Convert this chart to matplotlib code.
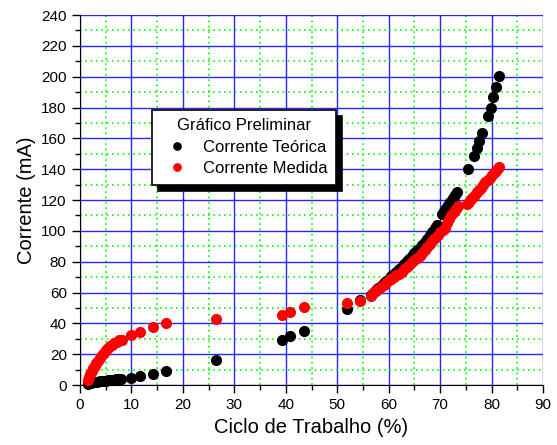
import matplotlib
matplotlib.use('Agg')
import matplotlib.pyplot as plt
from matplotlib.ticker import MultipleLocator

plt.rcParams['font.family'] = ['Liberation Sans', 'DejaVu Sans']

# Corrente teórica (mA) vs ciclo de trabalho (%)
teorica_x = [1.6, 1.9, 2.2, 2.5, 2.8, 3.1, 3.4, 3.8, 4.2, 4.6, 5.0, 5.4, 5.8, 6.2, 6.6, 7.0, 7.5, 8.0,
             10.0, 11.7, 14.1, 16.8, 26.4, 39.2, 40.8, 43.5, 51.8, 54.4,
             56.6, 57.0, 57.5, 58.0, 58.5, 59.0, 59.5, 60.0, 60.5, 61.0, 61.5, 62.0, 62.5, 63.0, 63.5,
             64.0, 64.5, 65.0, 65.5, 66.0, 66.5, 67.0, 67.5, 68.0, 68.5, 69.0, 69.4,
             70.4, 70.8, 71.2, 71.6, 72.0, 72.4, 72.8, 73.2,
             75.4, 76.5, 77.1, 77.6, 78.2, 79.25, 79.8, 80.35, 80.9, 81.45]
teorica_y = [0.8, 1.2, 1.5, 1.7, 1.9, 2.0, 2.2, 2.3, 2.5, 2.7, 2.8, 3.0, 3.1, 3.3, 3.5, 3.6, 3.8, 4.0,
             4.8, 5.8, 7.1, 9.1, 16.2, 29.2, 31.8, 35.2, 49.0, 55.3,
             58.5, 60.0, 61.5, 63.0, 64.5, 66.0, 67.5, 69.0, 70.5, 72.0, 73.5, 75.0, 76.8, 78.5, 80.3,
             82.0, 83.8, 85.5, 87.3, 89.2, 91.0, 93.0, 95.0, 97.0, 99.5, 102.0, 104.0,
             111.0, 113.0, 115.0, 117.0, 119.0, 121.0, 123.0, 125.0,
             140.0, 148.7, 153.5, 158.3, 163.4, 174.3, 180.0, 186.6, 193.0, 200.4]

# Corrente medida (mA)
medida_x = [1.6, 1.8, 2.0, 2.3, 2.6, 2.9, 3.2, 3.5, 3.9, 4.3, 4.7, 5.1, 5.5, 5.9, 6.3, 6.7, 7.1, 7.6, 8.1,
            10.0, 11.7, 14.1, 16.8, 26.4, 39.2, 40.8, 43.5, 51.8, 54.4,
            56.5, 57.0, 57.5, 58.0, 58.5, 59.0, 59.5, 60.0, 60.5, 61.0, 61.5, 62.0, 62.5, 63.0, 63.5,
            64.0, 64.5, 65.0, 65.5, 66.0, 66.5, 67.0, 67.5, 68.0, 68.5, 69.0, 69.5, 70.0, 70.5, 71.0,
            71.4, 71.8, 72.2, 72.6, 73.0, 73.4,
            75.2, 75.6, 76.0, 76.4, 76.8, 77.2, 77.6, 78.0, 78.4, 78.8, 79.2, 79.6, 80.0, 80.4, 80.8,
            81.2, 81.5]
medida_y = [3.0, 5.0, 7.0, 9.0, 11.0, 12.5, 14.0, 15.5, 17.5, 19.5, 21.0, 22.5, 24.0, 25.0, 26.0, 27.0,
            28.0, 29.0, 29.5,
            32.4, 34.6, 37.4, 40.0, 42.6, 45.4, 47.6, 50.8, 53.0, 54.8,
            58.0, 59.5, 61.0, 62.5, 63.8, 65.0, 66.5, 68.0, 69.0, 70.2, 71.2, 72.2, 73.5, 75.0, 76.5,
            78.0, 79.5, 81.0, 82.5, 84.0, 85.8, 87.5, 89.5, 91.5, 93.5, 95.5, 97.5, 99.5, 100.5, 102.0,
            105.0, 107.5, 110.0, 112.5, 114.5, 116.0,
            117.5, 119.0, 120.5, 122.0, 123.5, 125.0, 126.5, 128.0, 130.0, 131.5, 133.0, 134.5, 136.0,
            137.5, 139.0, 140.5, 141.6]

fig = plt.figure(figsize=(5.57, 4.45), dpi=100)
ax = fig.add_axes([0.1436, 0.1348, 0.8314, 0.8314])

ax.set_xlim(0, 90)
ax.set_ylim(0, 240)
ax.xaxis.set_major_locator(MultipleLocator(10))
ax.xaxis.set_minor_locator(MultipleLocator(5))
ax.yaxis.set_major_locator(MultipleLocator(20))
ax.yaxis.set_minor_locator(MultipleLocator(10))

# grid: blue solid major, green dotted minor
ax.grid(which='major', color='#0000ff', linestyle='-', linewidth=1.0, alpha=0.85)
ax.grid(which='minor', color='#00ff00', linestyle=(0, (1, 2.2)), linewidth=1.2)
ax.set_axisbelow(True)

ax.spines['top'].set_visible(False)
ax.spines['right'].set_visible(False)
ax.tick_params(which='major', direction='out', length=6, width=1, labelsize=11)
ax.tick_params(which='minor', direction='out', length=3.5, width=1)

ax.plot(teorica_x, teorica_y, 'o', color='black', markersize=7, linestyle='none',
        label='Corrente Teórica', clip_on=False, zorder=3)
ax.plot(medida_x, medida_y, 'o', color='red', markersize=7, linestyle='none',
        label='Corrente Medida', clip_on=False, zorder=4)

ax.set_xlabel('Ciclo de Trabalho (%)', fontsize=14.5)
ax.set_ylabel('Corrente (mA)', fontsize=14.5)

leg = ax.legend(title='Gráfico Preliminar', loc='upper left', bbox_to_anchor=(0.138, 0.767),
                fontsize=12, title_fontsize=12, fancybox=False, framealpha=1,
                edgecolor='black', markerscale=0.75, handletextpad=0.55,
                borderpad=0.5, labelspacing=0.4,
                shadow={'ox': 4.5, 'oy': -4.5, 'color': 'black', 'alpha': 1.0})
leg.get_frame().set_linewidth(1.2)

fig.savefig('out.png', dpi=100)
